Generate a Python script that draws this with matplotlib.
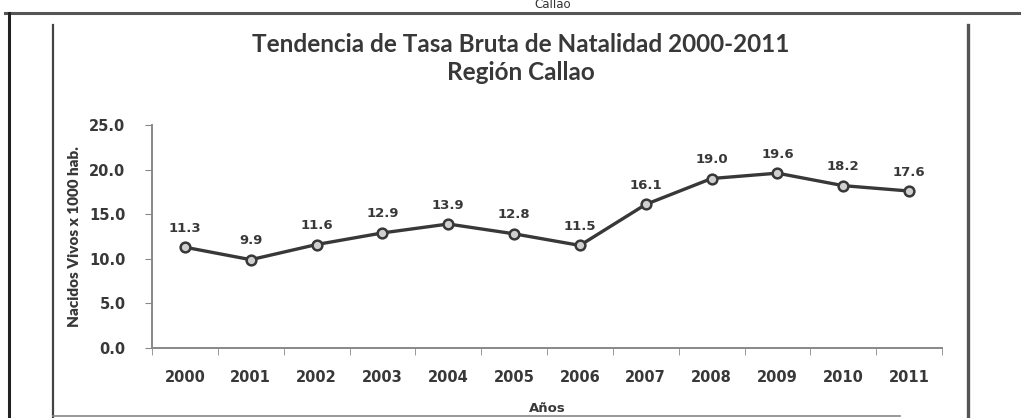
import matplotlib
matplotlib.use("Agg")
import matplotlib.pyplot as plt
from matplotlib.lines import Line2D

years = ["2000", "2001", "2002", "2003", "2004", "2005",
         "2006", "2007", "2008", "2009", "2010", "2011"]
tbn = [11.3, 9.9, 11.6, 12.9, 13.9, 12.8, 11.5, 16.1, 19.0, 19.6, 18.2, 17.6]
y_ticks = [0, 5, 10, 15, 20, 25]

W, H = 1021, 418
dark = "#383838"
plt.rcParams["font.family"] = ["DejaVu Sans"]

fig = plt.figure(figsize=(W / 100, H / 100), dpi=100)
fig.patch.set_facecolor("white")


def px(x, y):
    return x / W, 1 - y / H


def fline(x0, y0, x1, y1, lw=2.0, color="#555555"):
    a, b = px(x0, y0)
    c, d = px(x1, y1)
    fig.add_artist(Line2D([a, c], [b, d], lw=lw, color=color))


# page frame
fline(5, 13, 1021, 13, lw=2.2)
fline(9, 13, 9, 418, lw=2.2, color="#222222")
fline(53, 25, 53, 418, lw=1.6, color="#444444")
fline(968, 25, 968, 418, lw=2.4)
fline(53, 416, 900, 416, lw=1.2, color="#888888")

# header text above the frame
x, y = px(553, 5)
fig.text(x, y, "Callao", ha="center", va="center", fontsize=8.5, color="#333333")

ax = fig.add_axes([152 / W, 70 / H, (942 - 152) / W, 223 / H])
xs = range(len(years))
ax.plot(xs, tbn, color=dark, lw=2.4, marker="o", ms=7,
        mfc="#d0d0d0", mec=dark, mew=1.8, zorder=3)
for i, v in zip(xs, tbn):
    ax.annotate(f"{v:.1f}", (i, v), xytext=(0, 9), textcoords="offset points",
                ha="center", va="bottom", fontsize=9.5, fontweight="bold",
                color=dark)

ax.set_xlim(-0.5, len(years) - 0.5)
ax.set_ylim(0, 25)
ax.set_yticks(y_ticks)
ax.set_yticklabels([f"{t:.1f}" for t in y_ticks])
ax.set_xticks(list(xs))
ax.set_xticklabels(years)
ax.set_xticks([i - 0.5 for i in range(len(years) + 1)], minor=True)
ax.tick_params(axis="x", which="major", length=0, pad=16)
ax.tick_params(axis="x", which="minor", length=5, color="#888888", direction="out")
ax.tick_params(axis="y", length=5, color="#888888", pad=14)
for lab in ax.get_xticklabels() + ax.get_yticklabels():
    lab.set_fontweight("bold")
    lab.set_fontsize(10.5)
    lab.set_color(dark)

for s in ["top", "right"]:
    ax.spines[s].set_visible(False)
for s in ["left", "bottom"]:
    ax.spines[s].set_color("#888888")
    ax.spines[s].set_linewidth(1.4)

ax.set_xlabel("Años", fontsize=9.5, fontweight="bold", color=dark, labelpad=12)
ax.set_ylabel("Nacidos Vivos x 1000 hab.", fontsize=11, fontweight="heavy",
              color=dark, labelpad=6, family=["Lato", "DejaVu Sans"])

x, y = px(521, 45)
fig.text(x, y, "Tendencia de Tasa Bruta de Natalidad 2000-2011", ha="center",
         va="center", fontsize=17.5, fontweight="bold", color=dark,
         family=["Lato", "DejaVu Sans"])
x, y = px(521, 73)
fig.text(x, y, "Región Callao", ha="center", va="center", fontsize=17.5,
         fontweight="bold", color=dark, family=["Lato", "DejaVu Sans"])

fig.savefig("out.png", dpi=100, facecolor="white")
